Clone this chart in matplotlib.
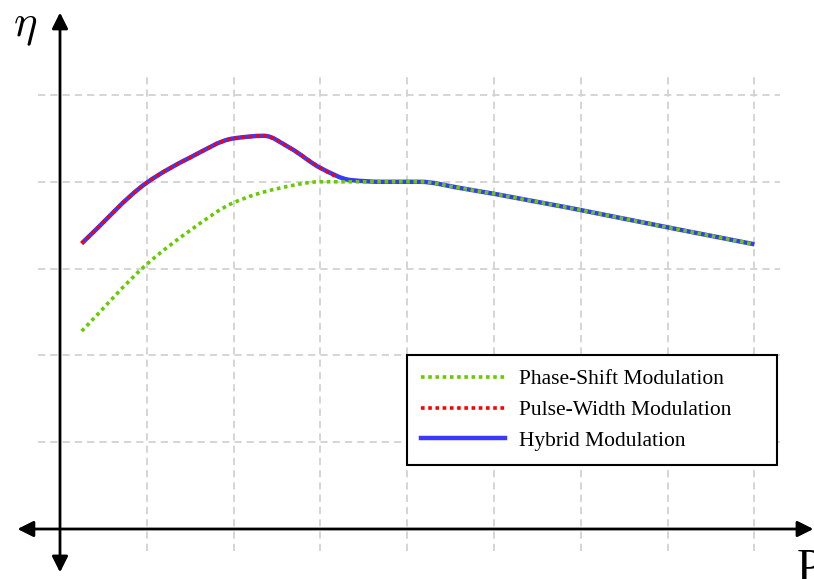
import numpy as np
import matplotlib
matplotlib.use("Agg")
import matplotlib.pyplot as plt
from matplotlib.path import Path
from matplotlib.patches import PathPatch
from matplotlib.lines import Line2D

plt.rcParams['mathtext.fontset'] = 'cm'

# curve support points (P, eta in grid units)
phase_x = [0.25, 1.0, 1.5, 2.0, 2.5, 3.0, 4.15, 4.6, 8.0]
phase_y = [2.28, 3.05, 3.44, 3.76, 3.92, 4.0, 4.0, 3.93, 3.28]

pwm_x = [0.25, 1.0, 1.5, 2.0, 2.35, 2.65, 3.0, 3.2]
pwm_y = [3.29, 3.99, 4.28, 4.5, 4.53, 4.39, 4.16, 4.05]

hybrid_x = [0.25, 1.0, 1.5, 2.0, 2.35, 2.65, 3.0, 3.35, 3.7, 4.15, 4.6, 8.0]
hybrid_y = [3.29, 3.99, 4.28, 4.5, 4.53, 4.39, 4.16, 4.02, 4.0, 4.0, 3.93, 3.28]

grid_x = [1, 2, 3, 4, 5, 6, 7, 8]
grid_y = [1, 2, 3, 4, 5]

labels = ['Phase-Shift Modulation', 'Pulse-Width Modulation', 'Hybrid Modulation']
colors = ['#66cc00', '#ff0000', '#3838ff']


def smooth_path(xs, ys):
    # smooth curve through the points, monotone (pchip-like) tangents
    x = np.asarray(xs, float)
    y = np.asarray(ys, float)
    h = np.diff(x)
    d = np.diff(y) / h
    m = np.empty_like(x)
    m[0], m[-1] = d[0], d[-1]
    for i in range(1, len(x) - 1):
        if d[i - 1] * d[i] <= 0:
            m[i] = 0.0
        else:
            w1 = 2 * h[i] + h[i - 1]
            w2 = h[i] + 2 * h[i - 1]
            m[i] = (w1 + w2) / (w1 / d[i - 1] + w2 / d[i])
    verts = [(x[0], y[0])]
    codes = [Path.MOVETO]
    for i in range(len(x) - 1):
        verts += [(x[i] + h[i] / 3, y[i] + m[i] * h[i] / 3),
                  (x[i + 1] - h[i] / 3, y[i + 1] - m[i + 1] * h[i] / 3),
                  (x[i + 1], y[i + 1])]
        codes += [Path.CURVE4] * 3
    return Path(verts, codes)


fig = plt.figure(figsize=(8.14, 5.79), dpi=100)
ax = fig.add_axes([0, 0, 1, 1])
ax.axis('off')
ax.set_xlim(-60 / 86.8, (814 - 60) / 86.8)
ax.set_ylim(-50 / 86.8, 529 / 86.8)

# dashed grid
gs = dict(color='#d2d2d2', lw=1.3, linestyle=(0, (4, 2.8)), zorder=1)
ax.vlines(grid_x, -0.25, 5.25, **gs)
ax.hlines(grid_y, -0.25, 8.3, **gs)

# axes with arrows on both ends
ap = dict(arrowstyle='<|-|>', color='black', lw=2.0, mutation_scale=24,
          shrinkA=0, shrinkB=0)
ax.annotate('', xy=(8.68, 0), xytext=(-0.49, 0), arrowprops=ap, zorder=3)
ax.annotate('', xy=(0, 5.95), xytext=(0, -0.5), arrowprops=ap, zorder=3)

ax.text(-0.40, 5.79, r'$\eta$', fontsize=32, ha='center', va='center')
ax.text(8.49, -0.22, 'P', fontsize=33, family='Liberation Serif',
        ha='left', va='top')

# curves: blue underneath, dotted ones on top
ax.add_patch(PathPatch(smooth_path(hybrid_x, hybrid_y), fill=False,
                       edgecolor=colors[2], lw=3.2, zorder=4))
dot = (0, (1, 1))
ax.add_patch(PathPatch(smooth_path(phase_x, phase_y), fill=False,
                       edgecolor=colors[0], lw=2.6, linestyle=dot,
                       capstyle='butt', zorder=5))
ax.add_patch(PathPatch(smooth_path(pwm_x, pwm_y), fill=False,
                       edgecolor=colors[1], lw=2.6, linestyle=dot,
                       capstyle='butt', zorder=6))

handles = [
    Line2D([], [], color=colors[0], lw=2.6, linestyle=dot),
    Line2D([], [], color=colors[1], lw=2.6, linestyle=dot),
    Line2D([], [], color=colors[2], lw=3.2),
]
leg = ax.legend(handles, labels, loc='upper left',
                bbox_to_anchor=(407 / 814, 1 - 355 / 579, 370 / 814, 0.0),
                mode='expand',
                prop={'family': 'Liberation Serif', 'size': 15.5},
                handlelength=3.9, handletextpad=0.62, labelspacing=0.5,
                borderpad=0.66, borderaxespad=0, fancybox=False, framealpha=1)
leg.get_frame().set_edgecolor('black')
leg.get_frame().set_linewidth(1.5)
leg.set_zorder(10)

fig.savefig('out.png', dpi=100)
